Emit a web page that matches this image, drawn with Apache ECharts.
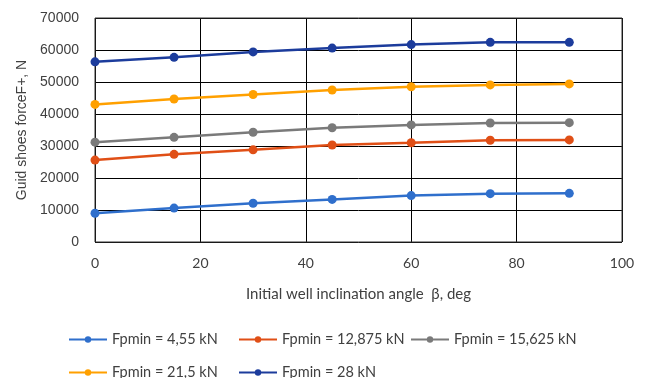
<!DOCTYPE html>
<html>
<head>
<meta charset="utf-8">
<script src="https://cdn.jsdelivr.net/npm/echarts@6/dist/echarts.min.js"></script>
<style>
  html, body { margin: 0; padding: 0; background: #fff; }
  #chart { width: 645px; height: 378px; }
</style>
</head>
<body>
<div id="chart"></div>
<script>
// inclination angles, deg
const angles = [0, 15, 30, 45, 60, 75, 90];
// guide shoes force, N
const force455 = [9000, 10600, 12100, 13300, 14500, 15100, 15200];
const force12875 = [25600, 27400, 28800, 30300, 31000, 31800, 31900];
const force15625 = [31200, 32700, 34300, 35700, 36600, 37200, 37300];
const force215 = [43000, 44700, 46100, 47500, 48500, 49100, 49400];
const force28 = [56300, 57700, 59400, 60600, 61700, 62400, 62400];
const seriesNames = ['Fpmin = 4,55 kN', 'Fpmin = 12,875 kN', 'Fpmin = 15,625 kN', 'Fpmin = 21,5 kN', 'Fpmin = 28 kN'];
const seriesData = [force455, force12875, force15625, force215, force28];
const colors = ['#2f6fcc', '#e04f16', '#7a7a7a', '#ffa000', '#1c3c9c'];

const chart = echarts.init(document.getElementById('chart'));

// legend laid out like Excel: fixed columns, 3 + 2
const legendPos = [[68, 332], [238, 332], [410, 332], [68, 365], [238, 365]];
const legends = seriesNames.map((name, i) => ({
  data: [name],
  left: legendPos[i][0],
  top: legendPos[i][1],
  padding: 0,
  itemWidth: 38,
  itemHeight: 8,
  itemGap: 0,
  textStyle: { fontFamily: 'Lato', fontSize: 14.5, color: '#404040' }
}));

const option = {
  animation: false,
  color: colors,
  legend: legends,
  grid: { left: 95, right: 23, top: 18, bottom: 136 },
  xAxis: {
    type: 'value',
    min: 0,
    max: 100,
    interval: 20,
    name: 'Initial well inclination angle  β, deg',
    nameLocation: 'middle',
    nameGap: 45,
    nameTextStyle: { fontFamily: 'Lato', fontSize: 15, color: '#404040' },
    axisLine: { show: false },
    axisTick: { show: false },
    axisLabel: { fontFamily: 'Lato', fontSize: 14, color: '#404040', margin: 14 },
    splitLine: { lineStyle: { color: '#000', width: 1 } }
  },
  yAxis: {
    type: 'value',
    min: 0,
    max: 70000,
    interval: 10000,
    name: 'Guid shoes forceF+, N',
    nameLocation: 'middle',
    nameGap: 66,
    nameTextStyle: { fontFamily: 'Liberation Sans', fontSize: 14, color: '#404040' },
    axisLine: { show: false },
    axisTick: { show: false },
    axisLabel: {
      fontFamily: 'Liberation Sans', fontSize: 14, color: '#404040', margin: 16,
      formatter: v => String(v)
    },
    splitLine: { lineStyle: { color: '#000', width: 1 } }
  },
  series: seriesNames.map((name, i) => ({
    name: name,
    type: 'line',
    data: angles.map((a, j) => [a, seriesData[i][j]]),
    symbol: 'circle',
    symbolSize: 9,
    lineStyle: { width: 2.5 },
    z: 3
  }))
};

chart.setOption(option);
// plot area border
const gridRect = chart.getModel().getComponent('grid').coordinateSystem.getRect();
chart.setOption({
  graphic: [{
    type: 'rect',
    shape: { x: gridRect.x, y: gridRect.y, width: gridRect.width, height: gridRect.height },
    style: { fill: 'none', stroke: '#333', lineWidth: 1 },
    z: 1,
    silent: true
  }]
});
</script>
</body>
</html>
